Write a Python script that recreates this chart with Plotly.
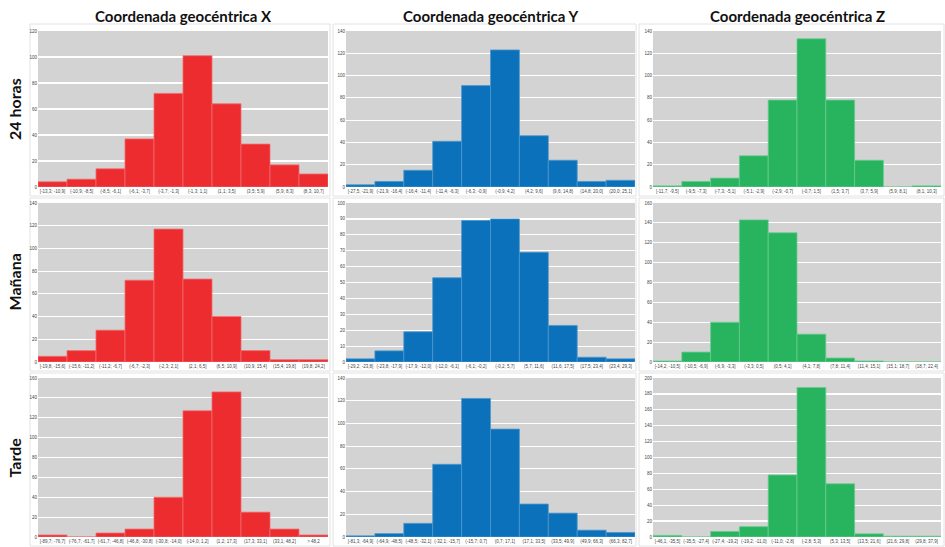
import plotly.graph_objects as go

W, H = 945, 547

col_titles = ["Coordenada geocéntrica X", "Coordenada geocéntrica Y", "Coordenada geocéntrica Z"]
row_titles = ["24 horas", "Mañana", "Tarde"]

# ---- 24 horas ----
cat_24_x = ["[-13,3; -10,9]", "(-10,9; -8,5]", "(-8,5; -6,1]", "(-6,1; -3,7]", "(-3,7; -1,3]",
            "(-1,3; 1,1]", "(1,1; 3,5]", "(3,5; 5,9]", "(5,9; 8,3]", "(8,3; 10,7]"]
val_24_x = [4, 6, 14, 37, 72, 101, 64, 33, 17, 10]
cat_24_y = ["[-27,5; -21,9]", "(-21,9; -16,4]", "(-16,4; -11,4]", "(-11,4; -6,3]", "(-6,3; -0,9]",
            "(-0,9; 4,2]", "(4,2; 9,6]", "(9,6; 14,8]", "(14,8; 20,0]", "(20,0; 25,1]"]
val_24_y = [2, 5, 15, 41, 91, 123, 46, 24, 5, 6]
cat_24_z = ["[-11,7; -9,5]", "(-9,5; -7,3]", "(-7,3; -5,1]", "(-5,1; -2,9]", "(-2,9; -0,7]",
            "(-0,7; 1,5]", "(1,5; 3,7]", "(3,7; 5,9]", "(5,9; 8,1]", "(8,1; 10,3]"]
val_24_z = [1, 5, 8, 28, 78, 133, 78, 24, 0, 1]

# ---- Mañana ----
cat_man_x = ["[-19,8; -15,6]", "(-15,6; -11,2]", "(-11,2; -6,7]", "(-6,7; -2,3]", "(-2,3; 2,1]",
             "(2,1; 6,5]", "(6,5; 10,9]", "(10,9; 15,4]", "(15,4; 19,8]", "(19,8; 24,2]"]
val_man_x = [5, 10, 28, 72, 117, 73, 40, 10, 2, 2]
cat_man_y = ["[-29,2; -23,8]", "(-23,8; -17,9]", "(-17,9; -12,0]", "(-12,0; -6,1]", "(-6,1; -0,2]",
             "(-0,2; 5,7]", "(5,7; 11,6]", "(11,6; 17,5]", "(17,5; 23,4]", "(23,4; 29,3]"]
val_man_y = [2, 7, 19, 53, 89, 90, 69, 23, 3, 2]
cat_man_z = ["[-14,2; -10,5]", "(-10,5; -6,9]", "(-6,9; -3,3]", "(-3,3; 0,5]", "(0,5; 4,1]",
             "(4,1; 7,8]", "(7,8; 11,4]", "(11,4; 15,1]", "(15,1; 18,7]", "(18,7; 22,4]"]
val_man_z = [1, 10, 40, 143, 130, 28, 4, 1, 0, 0]

# ---- Tarde ----
cat_tar_x = ["[-89,7; -76,7]", "(-76,7; -61,7]", "(-61,7; -46,8]", "(-46,8; -30,8]", "(-30,8; -14,0]",
             "(-14,0; 1,2]", "(1,2; 17,3]", "(17,3; 33,1]", "(33,1; 48,2]", "> 48,2"]
val_tar_x = [2, 0, 4, 8, 40, 127, 146, 25, 8, 2]
cat_tar_y = ["[-81,3; -64,9]", "(-64,9; -48,5]", "(-48,5; -32,1]", "(-32,1; -15,7]", "(-15,7; 0,7]",
             "(0,7; 17,1]", "(17,1; 33,5]", "(33,5; 49,9]", "(49,9; 66,3]", "(66,3; 82,7]"]
val_tar_y = [1, 3, 12, 64, 122, 95, 29, 21, 6, 4]
cat_tar_z = ["[-46,1; -35,5]", "(-35,5; -27,4]", "(-27,4; -19,2]", "(-19,2; -11,0]", "(-11,0; -2,8]",
             "(-2,8; 5,3]", "(5,3; 13,5]", "(13,5; 21,6]", "(21,6; 29,8]", "(29,8; 37,9]"]
val_tar_z = [2, 0, 7, 13, 78, 188, 67, 4, 1, 1]

y_ranges = [[120, 140, 140], [140, 100, 160], [160, 140, 200]]
y_dticks = [[20, 20, 20], [20, 10, 20], [20, 20, 20]]

panels = [
    [(cat_24_x, val_24_x), (cat_24_y, val_24_y), (cat_24_z, val_24_z)],
    [(cat_man_x, val_man_x), (cat_man_y, val_man_y), (cat_man_z, val_man_z)],
    [(cat_tar_x, val_tar_x), (cat_tar_y, val_tar_y), (cat_tar_z, val_tar_z)],
]

colors = ["#EC2C2F", "#0B71BA", "#28B35E"]
edge = ["#F26A6C", "#4E97CC", "#69CB8F"]

# pixel layout of the gray plot areas
col_px = [(38, 328), (346, 635), (653, 941)]
row_px = [(31, 187), (203, 362), (378, 537)]
box_px_x = [(30, 330), (333, 636), (639, 944)]
box_px_y = [(24, 196), (198, 371), (373, 546)]

fig = go.Figure()
layout = {}
shapes = []
annotations = []

for r in range(3):
    for c in range(3):
        k = r * 3 + c + 1
        xa = "xaxis" if k == 1 else f"xaxis{k}"
        ya = "yaxis" if k == 1 else f"yaxis{k}"
        xr = "x" if k == 1 else f"x{k}"
        yr = "y" if k == 1 else f"y{k}"
        cats, vals = panels[r][c]
        fig.add_trace(go.Bar(
            x=cats, y=vals, xaxis=xr, yaxis=yr,
            marker=dict(color=colors[c], line=dict(color=edge[c], width=0.8)),
            width=1.0, showlegend=False,
        ))
        x0, x1 = col_px[c]
        y0, y1 = row_px[r]
        layout[xa] = dict(
            domain=[x0 / W, x1 / W], anchor=yr, automargin=False,
            showgrid=False, zeroline=False, showline=False,
            tickfont=dict(size=4.5, color="#444", family="Liberation Sans"),
            tickangle=0, ticks="", ticklen=0, fixedrange=True,
        )
        layout[ya] = dict(
            domain=[1 - y1 / H, 1 - y0 / H], anchor=xr, automargin=False,
            range=[0, y_ranges[r][c]], dtick=y_dticks[r][c],
            showgrid=True, gridcolor="#FFFFFF", gridwidth=1.2,
            zeroline=False, showline=False, ticks="", ticklen=0,
            tickfont=dict(size=4.5, color="#444", family="Liberation Sans"),
            fixedrange=True,
        )
        bx0, bx1 = box_px_x[c]
        by0, by1 = box_px_y[r]
        shapes.append(dict(
            type="rect", xref="paper", yref="paper",
            x0=bx0 / W, x1=bx1 / W, y0=1 - by1 / H, y1=1 - by0 / H,
            line=dict(color="#E2E2E2", width=1), fillcolor="rgba(0,0,0,0)", layer="below",
        ))
        shapes.append(dict(
            type="rect", xref=xr + " domain", yref=yr + " domain",
            x0=0, x1=1, y0=0, y1=1,
            line=dict(width=0), fillcolor="#D3D3D3", layer="below",
        ))

for c in range(3):
    x0, x1 = col_px[c]
    annotations.append(dict(
        text=f"<b>{col_titles[c]}</b>", xref="paper", yref="paper",
        x=(x0 + x1) / 2 / W, y=1 - 16 / H, showarrow=False,
        xanchor="center", yanchor="middle",
        font=dict(size=15, color="#111", family="Lato"),
    ))

for r in range(3):
    y0, y1 = row_px[r]
    annotations.append(dict(
        text=f"<b>{row_titles[r]}</b>", xref="paper", yref="paper",
        x=14 / W, y=1 - (y0 + y1) / 2 / H, showarrow=False,
        xanchor="center", yanchor="middle", textangle=-90,
        font=dict(size=16, color="#111", family="Lato"),
    ))

fig.update_layout(
    width=W, height=H, margin=dict(l=0, r=0, t=0, b=0),
    paper_bgcolor="white", plot_bgcolor="rgba(0,0,0,0)",
    bargap=0, shapes=shapes, annotations=annotations,
    **layout,
)

fig.write_html(
    "out.html",
    config={"displayModeBar": False, "staticPlot": True},
    post_script="document.body.style.margin='0px';document.body.style.overflow='hidden';",
)
